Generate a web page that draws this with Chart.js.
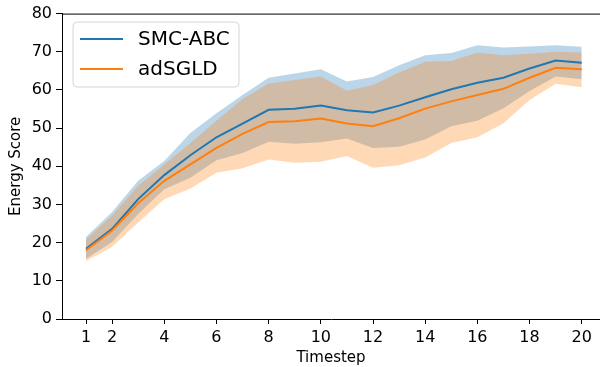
<!DOCTYPE html>
<html>
<head>
<meta charset="utf-8">
<script src="https://cdn.jsdelivr.net/npm/chart.js@4"></script>
<style>
html,body{margin:0;padding:0;background:#fff;overflow:hidden}
canvas{display:block}
</style>
</head>
<body>
<canvas id="c" width="600" height="367"></canvas>
<script>
// timesteps and tick labels
const steps=[1,2,3,4,5,6,7,8,9,10,11,12,13,14,15,16,17,18,19,20];
const xTicks=[1,2,4,6,8,10,12,14,16,18,20];
const yTicks=[0,10,20,30,40,50,60,70,80];

// SMC-ABC mean and band
const smcMean=[18.4,23.6,31.4,37.7,42.9,47.6,51.2,54.8,55.1,55.9,54.7,54.1,55.9,58.1,60.2,61.9,63.2,65.6,67.7,67.1];
const smcLo=[15.8,20.2,27.5,34.0,37.0,41.6,43.5,46.4,45.9,46.3,47.3,44.8,45.1,47.0,50.5,51.9,55.2,59.7,63.5,62.8];
const smcHi=[21.5,28.0,36.2,41.4,48.7,53.9,58.7,63.2,64.3,65.4,62.2,63.4,66.5,69.1,69.7,71.7,71.1,71.4,71.7,71.3];

// adSGLD mean and band
const sgldMean=[18.0,23.2,30.3,36.2,40.5,44.8,48.5,51.6,51.8,52.5,51.2,50.5,52.6,55.1,57.0,58.7,60.3,63.2,65.8,65.4];
const sgldLo=[15.2,18.9,25.3,31.4,34.2,38.3,39.5,41.8,40.9,41.2,42.7,39.6,40.3,42.3,46.1,47.6,51.3,57.4,61.6,60.7];
const sgldHi=[20.8,27.1,34.9,40.5,46.1,51.9,57.6,61.7,62.6,63.5,59.8,61.3,64.6,67.4,67.6,69.8,69.1,69.5,70.0,69.8];

const pts=v=>steps.map((s,i)=>({x:s,y:v[i]}));
const band=(label,v,fill,color,order)=>({label,data:pts(v),borderWidth:0,pointRadius:0,fill,backgroundColor:color,order,showLine:true});

const topSpine={
  id:"topSpine",
  afterDraw(chart){
    const {ctx,chartArea:a}=chart;
    ctx.save();
    ctx.strokeStyle="#000";ctx.lineWidth=1;
    ctx.beginPath();ctx.moveTo(a.left,a.top+0.5);ctx.lineTo(a.right,a.top+0.5);ctx.stroke();
    ctx.restore();
  }
};

const boxLegend={
  id:"boxLegend",
  afterDraw(chart){
    const ctx=chart.ctx;
    const items=[["SMC-ABC","#1f77b4"],["adSGLD","#ff7f0e"]];
    const x=73,y=22,w=166,h=65,r=4;
    ctx.save();
    ctx.beginPath();
    ctx.moveTo(x+r,y);ctx.arcTo(x+w,y,x+w,y+h,r);ctx.arcTo(x+w,y+h,x,y+h,r);
    ctx.arcTo(x,y+h,x,y,r);ctx.arcTo(x,y,x+w,y,r);ctx.closePath();
    ctx.fillStyle="rgba(255,255,255,0.8)";ctx.fill();
    ctx.strokeStyle="#d6d6d6";ctx.lineWidth=1;ctx.stroke();
    ctx.font="20px 'DejaVu Sans'";ctx.textBaseline="middle";ctx.fillStyle="#000";
    items.forEach(([t,c],i)=>{
      const yy=y+17+i*30;
      ctx.strokeStyle=c;ctx.lineWidth=2;
      ctx.beginPath();ctx.moveTo(80,yy);ctx.lineTo(123,yy);ctx.stroke();
      ctx.fillText(t,138,yy+1);
    });
    ctx.restore();
  }
};

new Chart(document.getElementById("c"),{
  type:"scatter",
  data:{datasets:[
    band("smcLo",smcLo,false,"rgba(31,119,180,0.3)",4),
    band("smcHi",smcHi,"-1","rgba(31,119,180,0.3)",4),
    {label:"SMC-ABC",data:pts(smcMean),showLine:true,borderColor:"#1f77b4",borderWidth:2,pointRadius:0,fill:false,order:1},
    band("sgldLo",sgldLo,false,"rgba(255,127,14,0.3)",3),
    band("sgldHi",sgldHi,"-1","rgba(255,127,14,0.3)",3),
    {label:"adSGLD",data:pts(sgldMean),showLine:true,borderColor:"#ff7f0e",borderWidth:2,pointRadius:0,fill:false,order:0}
  ]},
  options:{
    responsive:false,animation:false,devicePixelRatio:1,
    layout:{padding:{top:12,left:0,right:0,bottom:0}},
    plugins:{legend:{display:false},tooltip:{enabled:false}},
    elements:{line:{tension:0}},
    scales:{
      x:{
        type:"linear",min:0.08,max:20.7,
        afterBuildTicks:s=>{s.ticks=xTicks.map(v=>({value:v}));},
        afterFit:s=>{s.height=48;},
        ticks:{color:"#000",font:{family:"DejaVu Sans",size:16},padding:4,maxRotation:0,autoSkip:false},
        grid:{drawOnChartArea:false,tickLength:5,tickColor:"#000",tickWidth:1},
        border:{color:"#000",width:1},
        title:{display:true,text:"Timestep",color:"#000",font:{family:"DejaVu Sans",size:15},padding:{top:1,bottom:0}}
      },
      y:{
        min:0,max:80,
        afterBuildTicks:s=>{s.ticks=yTicks.map(v=>({value:v}));},
        afterFit:s=>{s.width=62;},
        ticks:{color:"#000",font:{family:"DejaVu Sans",size:16},padding:4},
        grid:{drawOnChartArea:false,tickLength:6,tickColor:"#000",tickWidth:1},
        border:{color:"#000",width:1},
        title:{display:true,text:"Energy Score",color:"#000",font:{family:"DejaVu Sans",size:15},padding:{top:7,bottom:0}}
      }
    }
  },
  plugins:[topSpine,boxLegend]
});
</script>
</body>
</html>
